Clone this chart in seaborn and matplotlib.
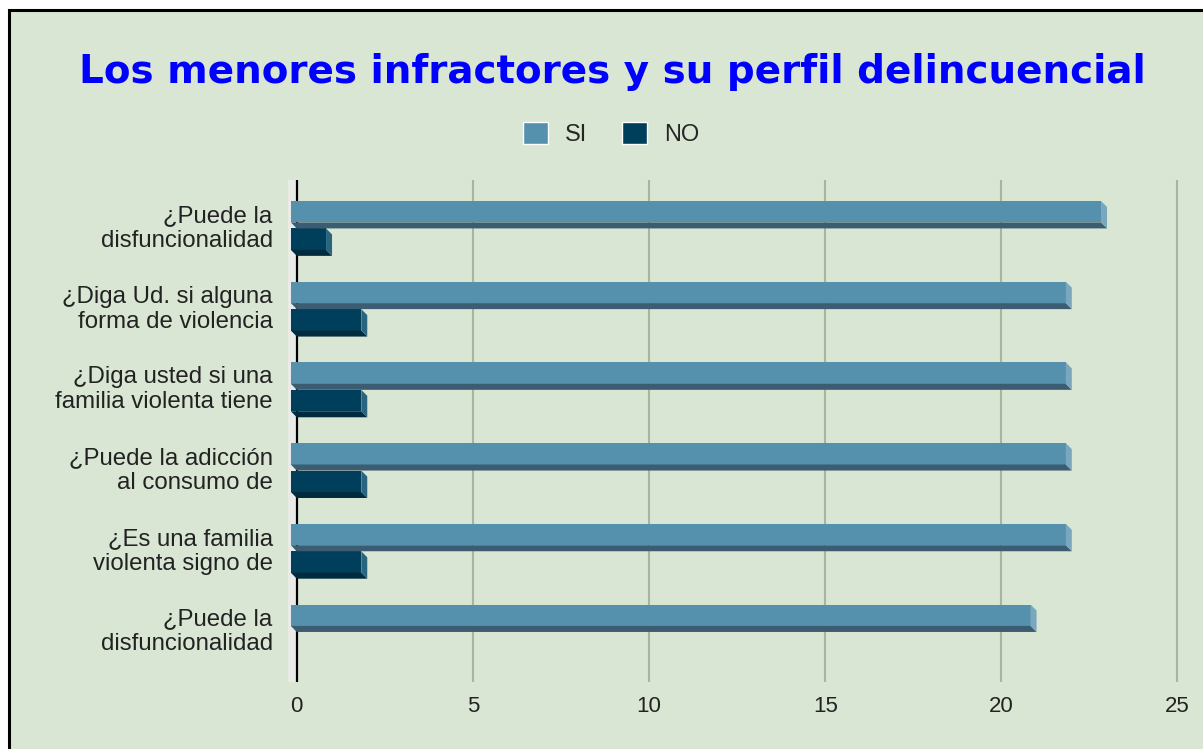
import numpy as np
import pandas as pd
import matplotlib
matplotlib.use("Agg")
import matplotlib.pyplot as plt
from matplotlib.patches import Rectangle, Polygon
import seaborn as sns

# data
questions = [
    "¿Puede la\ndisfuncionalidad",
    "¿Diga Ud. si alguna\nforma de violencia",
    "¿Diga usted si una\nfamilia violenta tiene",
    "¿Puede la adicción\nal consumo de",
    "¿Es una familia\nviolenta signo de",
    "¿Puede la\ndisfuncionalidad",
]
si_values = [23, 22, 22, 22, 22, 21]
no_values = [1, 2, 2, 2, 2, 0]
series = ["SI", "NO"]
x_ticks = [0, 5, 10, 15, 20, 25]

BG = "#d9e6d4"
colors = {"SI": "#5591ad", "NO": "#003f5c"}
bottom_colors = {"SI": "#3b5c71", "NO": "#002a3e"}
side_colors = {"SI": "#79a7be", "NO": "#2a6580"}

keys = [f"q{i}" for i in range(len(questions))]
df = pd.DataFrame({
    "key": keys * 2,
    "serie": ["SI"] * len(keys) + ["NO"] * len(keys),
    "valor": si_values + no_values,
})

sns.set_theme(style="white")
plt.rcParams["font.family"] = ["Liberation Sans", "DejaVu Sans"]

fig = plt.figure(figsize=(12.03, 7.49), dpi=100)
fig.patch.set_facecolor("white")
# green panel with black frame (top/left edges visible)
fig.patches.append(Rectangle((9 / 1203, -0.1), 1.2, 1.1 - 10 / 749, transform=fig.transFigure,
                             facecolor=BG, edgecolor="black", lw=2.2, zorder=-10))

ax = fig.add_axes([288 / 1203, 1 - 682 / 749, (1181 - 288) / 1203, (682 - 180) / 749])
ax.set_facecolor(BG)

sns.barplot(data=df, y="key", x="valor", hue="serie", order=keys, hue_order=series,
            palette=colors, orient="h", width=0.68, dodge=True, ax=ax, legend=False,
            saturation=1, zorder=3)

# fake 3D look: front face shifted left, bottom face + right side face
dx, dy_frac = 0.17, 0.22
for patch, serie in zip(ax.patches, [s for s in series for _ in keys]):
    w = patch.get_width()
    if w <= 0:
        patch.set_visible(False)
        continue
    x0, y0, h = patch.get_x(), patch.get_y(), patch.get_height()
    hf = h * (1 - dy_frac)
    patch.set_x(x0 - dx)
    patch.set_height(hf)
    patch.set_edgecolor("none")
    yb = y0 + hf
    ax.add_patch(Polygon([(x0 - dx, yb), (x0 + w - dx, yb), (x0 + w, y0 + h), (x0, y0 + h)],
                         closed=True, facecolor=bottom_colors[serie], edgecolor="none", zorder=3))
    ax.add_patch(Polygon([(x0 + w - dx, y0), (x0 + w, y0 + h - hf), (x0 + w, y0 + h), (x0 + w - dx, yb)],
                         closed=True, facecolor=side_colors[serie], edgecolor="none", zorder=3))

ax.set_xlim(-0.25, 25.1)
ax.set_ylim(5.62, -0.6)
ax.set_xticks(x_ticks)
ax.set_xticklabels([str(t) for t in x_ticks], fontsize=16, color="#222222")
ax.set_yticks(range(len(questions)))
ax.set_yticklabels(questions, fontsize=17.3, color="#222222", linespacing=1.17, va="center")
ax.tick_params(axis="x", length=0, pad=10)
ax.tick_params(axis="y", length=0, pad=11)
ax.set_xlabel("")
ax.set_ylabel("")
for s in ax.spines.values():
    s.set_visible(False)

# grid lines and zero line
for t in x_ticks[1:]:
    ax.axvline(t, color="#a8b6a0", lw=1.5, zorder=1)
ax.axvline(0, color="black", lw=1.6, zorder=2)
ax.axvspan(-0.25, 0, color="#e9ebe7", zorder=0)

# legend
handles = [Rectangle((0, 0), 1, 1, facecolor=colors[s]) for s in series]
fig.legend(handles, series, loc="center", bbox_to_anchor=(0.508, 1 - 134 / 749), ncol=2,
           frameon=False, fontsize=17, handlelength=1.05, handleheight=1.05,
           columnspacing=1.5, handletextpad=0.7)

fig.text(0.509, 1 - 72 / 749, "Los menores infractores y su perfil delincuencial",
         ha="center", va="center", fontsize=28, fontweight="bold", color="#0000ff",
         family="DejaVu Sans")

fig.savefig("out.png", dpi=100, facecolor=fig.get_facecolor())
